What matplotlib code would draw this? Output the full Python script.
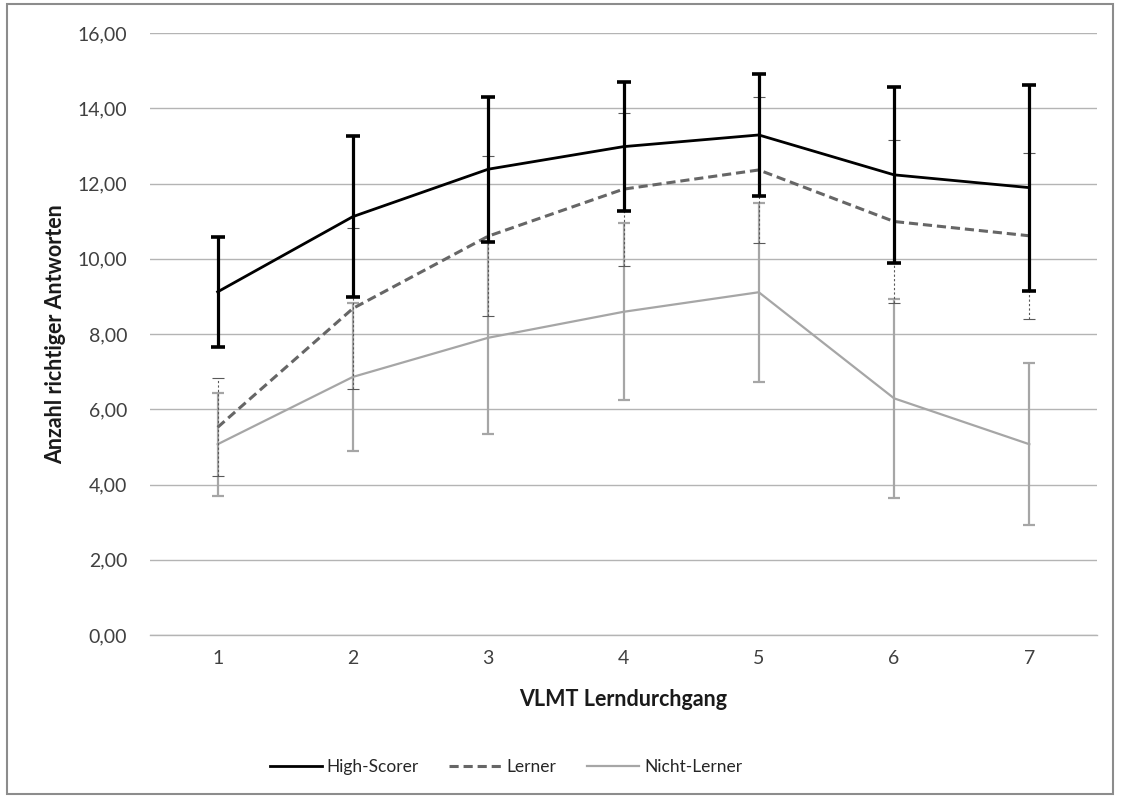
import matplotlib
matplotlib.use("Agg")
import matplotlib.pyplot as plt
from matplotlib.patches import Rectangle
from matplotlib.lines import Line2D

plt.rcParams['font.family'] = ['Lato', 'DejaVu Sans']

# Data
durchgang = [1, 2, 3, 4, 5, 6, 7]
tick_labels = ["1", "2", "3", "4", "5", "6", "7"]
high_scorer = [9.12, 11.12, 12.38, 12.98, 13.29, 12.23, 11.89]
high_scorer_sd = [1.47, 2.14, 1.93, 1.71, 1.62, 2.33, 2.74]
lerner = [5.52, 8.68, 10.60, 11.85, 12.36, 10.99, 10.61]
lerner_sd = [1.30, 2.13, 2.13, 2.03, 1.95, 2.17, 2.20]
nicht_lerner = [5.07, 6.86, 7.90, 8.59, 9.11, 6.29, 5.07]
nicht_lerner_sd = [1.37, 1.97, 2.55, 2.35, 2.38, 2.65, 2.15]
y_ticks = [0, 2, 4, 6, 8, 10, 12, 14, 16]

W, H = 1121, 798
fig = plt.figure(figsize=(W / 100, H / 100), dpi=100)
fig.patch.set_facecolor("white")

# axes: left 150, right 1097, top 33, bottom 635 (pixels)
ax = fig.add_axes([150 / W, 1 - 635 / H, (1097 - 150) / W, (635 - 33) / H])
ax.set_xlim(0.5, 7.5)
ax.set_ylim(0, 16)
ax.set_yticks(y_ticks)
ax.set_yticklabels([f"{v:.2f}".replace(".", ",") for v in y_ticks])
ax.set_xticks(durchgang)
ax.set_xticklabels(tick_labels)
for name, s in ax.spines.items():
    s.set_visible(name == "bottom")
ax.spines["bottom"].set_color("#b4b4b4")
ax.spines["bottom"].set_linewidth(1.0)
ax.tick_params(axis="both", length=0, labelsize=14, colors="#404040")
ax.tick_params(axis="y", pad=16.5)
ax.tick_params(axis="x", pad=11)
ax.grid(axis="y", color="#b4b4b4", linewidth=1.0)
ax.set_axisbelow(True)

# Nicht-Lerner
ax.errorbar(durchgang, nicht_lerner, yerr=nicht_lerner_sd, fmt="none",
            ecolor="#a6a6a6", elinewidth=1.6, capsize=4.5, capthick=1.6, zorder=2)
ax.plot(durchgang, nicht_lerner, color="#a6a6a6", linewidth=1.6, zorder=3)

# Lerner
eb = ax.errorbar(durchgang, lerner, yerr=lerner_sd, fmt="none",
                 ecolor="#595959", elinewidth=0.8, capsize=4.5, capthick=0.8, zorder=4)
for lc in eb[2]:
    lc.set_linestyle((0, (2, 2)))
ax.plot(durchgang, lerner, color="#666666", linewidth=2.2, dashes=(3.0, 1.6), zorder=5)

# High-Scorer
ax.errorbar(durchgang, high_scorer, yerr=high_scorer_sd, fmt="none",
            ecolor="black", elinewidth=2.3, capsize=5, capthick=2.6, zorder=6)
ax.plot(durchgang, high_scorer, color="black", linewidth=2.0, zorder=7)

ax.set_xlabel("VLMT Lerndurchgang", fontsize=15.5, fontweight="bold", labelpad=16,
              color="#1a1a1a")
ax.set_ylabel("Anzahl richtiger Antworten", fontsize=15.5, fontweight="bold", labelpad=8,
              color="#1a1a1a")

handles = [
    Line2D([], [], color="black", linewidth=2.0),
    Line2D([], [], color="#666666", linewidth=2.2, dashes=(3.0, 1.6)),
    Line2D([], [], color="#a6a6a6", linewidth=1.6),
]
fig.legend(handles, ["High-Scorer", "Lerner", "Nicht-Lerner"],
           loc="center", bbox_to_anchor=(506 / W, 1 - 767 / H), ncol=3,
           frameon=False, fontsize=12.5, handlelength=3.0, handletextpad=0.3,
           columnspacing=1.75, labelcolor="#262626")

# chart border
fig.add_artist(Rectangle((7 / W, 4 / H), (1113 - 7) / W, (794 - 4) / H,
                         transform=fig.transFigure, fill=False,
                         edgecolor="#8c8c8c", linewidth=1.5))

fig.savefig("out.png", dpi=100, facecolor="white")
